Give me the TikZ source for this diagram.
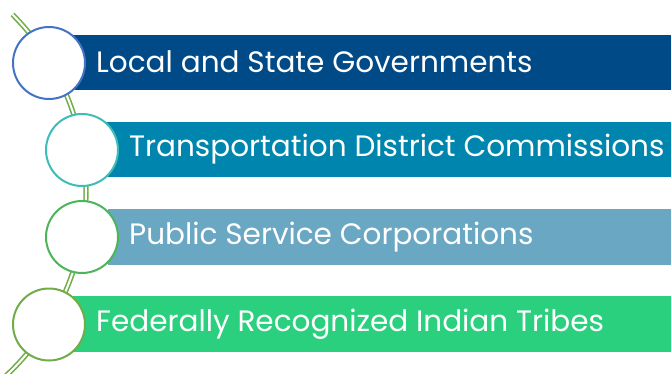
\documentclass[tikz,border=0pt]{standalone}
\usepackage{fontspec}
\setmainfont{Poppins}
\definecolor{barA}{HTML}{004A87}
\definecolor{barB}{HTML}{0086AE}
\definecolor{barC}{HTML}{6AA7C3}
\definecolor{barD}{HTML}{2BD07F}
\definecolor{ringA}{HTML}{4472C4}
\definecolor{ringB}{HTML}{3EBDB7}
\definecolor{ringC}{HTML}{4CB55A}
\definecolor{ringD}{HTML}{70AD47}
\definecolor{spine}{HTML}{70AD47}
\begin{document}
\begin{tikzpicture}[x=1pt,y=1pt,
  bar/.style={rectangle, draw=none, minimum height=55.5pt, anchor=south west, inner sep=0pt},
  ring/.style={circle, fill=white, line width=2pt, minimum size=72pt, inner sep=0pt},
  label/.style={anchor=west, text=white, font=\fontsize{29.5}{34}\selectfont, inner sep=0pt}]
\useasboundingbox (0,0) rectangle (671,373);
\clip (0,0) rectangle (671,373);
% spine arc
\draw[spine, line width=1.6pt, double=white, double distance=2pt]
  ([shift={(45:251)}]-165,181) arc[start angle=45, end angle=-48, radius=251];
% bars
\node[bar, fill=barA, minimum width=599pt] (b1) at (72,282.5) {};
\node[bar, fill=barB, minimum width=566pt] (b2) at (105,195.5) {};
\node[bar, fill=barC, minimum width=563pt] (b3) at (108,108) {};
\node[bar, fill=barD, minimum width=599pt] (b4) at (72,21) {};
% rings
\node[ring, draw=ringA] (c1) at (49,310) {};
\node[ring, draw=ringB] (c2) at (82,223) {};
\node[ring, draw=ringC] (c3) at (82,136) {};
\node[ring, draw=ringD] (c4) at (49,48.5) {};
% labels
\node[label] (t1) at (96,311) {Local and State Governments};
\node[label] (t2) at (129,223.5) {Transportation District Commissions};
\node[label] (t3) at (129,136) {Public Service Corporations};
\node[label] (t4) at (96,49) {Federally Recognized Indian Tribes};
\end{tikzpicture}
\end{document}
